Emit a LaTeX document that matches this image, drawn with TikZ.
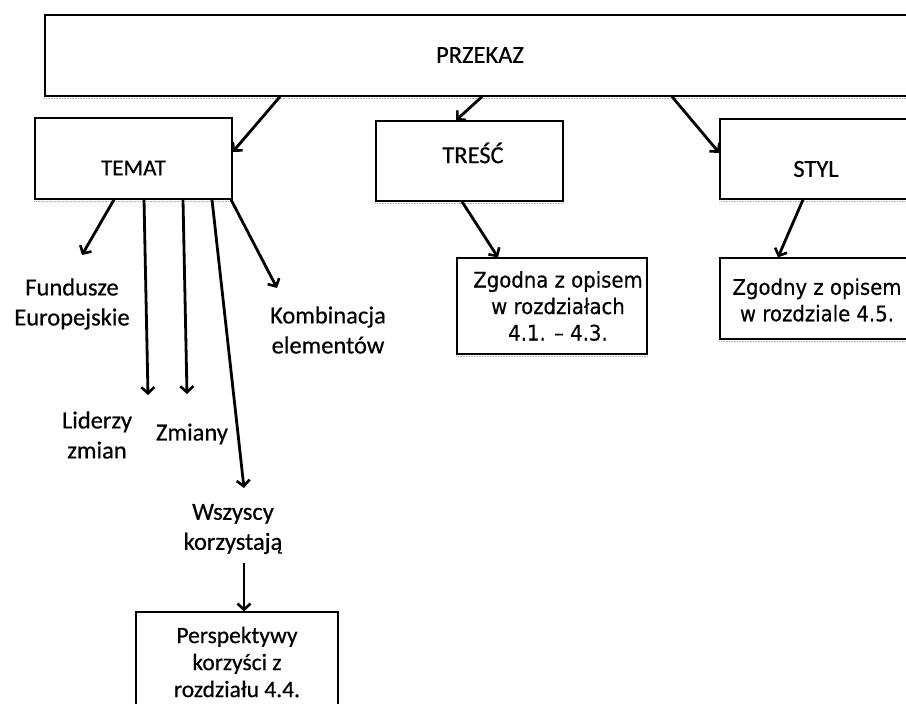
\documentclass[tikz,border=0pt]{standalone}
\usepackage{fontspec}
\setmainfont{Carlito}[FakeBold=0.5]
\newfontfamily\tah[FakeStretch=0.915,FakeBold=0.4]{DejaVu Sans}
\usetikzlibrary{arrows.meta}
\tikzset{
  x=1pt, y=-1pt,
  box/.style={draw, line width=1.3pt, inner sep=0pt, align=center},
  txt/.style={inner sep=0pt, align=center, font=\fontsize{24.5}{30}\selectfont},
  tahtxt/.style={inner sep=0pt, align=center, font=\tah\fontsize{21.5}{26.5}\selectfont},
  arr/.style={line width=2.8pt, -{Straight Barb[length=6pt,width=13pt,line width=2.6pt]}},
  shadowline/.style={draw=gray!60, line width=1.8pt, dash pattern=on 1pt off 0.6pt}
}
\begin{document}
\begin{tikzpicture}
\useasboundingbox (0,0) rectangle (906,704);
% boxes
\node[box, minimum width=870pt, minimum height=81pt] (przekaz) at (480,55.5) {};
\node[txt] (przekazt) at (480,55) {PRZEKAZ};
\node[box, minimum width=197pt, minimum height=81pt] (temat) at (133.5,158.5) {};
\node[txt, font=\fontsize{23}{28}\selectfont] (tematt) at (133.5,168) {TEMAT};
\node[box, minimum width=187pt, minimum height=80pt] (tresc) at (469.5,161) {};
\node[txt] (tresct) at (473,153) {TREŚĆ};
\node[box, minimum width=195pt, minimum height=80pt] (styl) at (817.5,159) {};
\node[txt] (stylt) at (816,169) {STYL};
\node[box, minimum width=190pt, minimum height=96pt] (zgodna) at (552,306) {};
\node[tahtxt] (zgodnat) at (558,306) {Zgodna z opisem\\w rozdziałach\\4.1. – 4.3.};
\node[box, minimum width=195pt, minimum height=81pt] (zgodny) at (817.5,298.5) {};
\node[tahtxt] (zgodnyt) at (817,300) {Zgodny z opisem\\w rozdziale 4.5.};
\node[box, txt, font=\fontsize{23.5}{27}\selectfont, minimum width=202pt, minimum height=100pt] (persp) at (237,662) {Perspektywy\\korzyści z\\rozdziału 4.4.};
% shadows
\foreach \b in {przekaz,temat,tresc,styl,zgodna,zgodny}
  \draw[shadowline] ([yshift=-1.9pt]\b.south west) -- ([yshift=-1.9pt]\b.south east);
% labels
\node[txt] (fund) at (72,304) {Fundusze\\Europejskie};
\node[txt] (komb) at (328,330) {Kombinacja\\elementów};
\node[txt] (lid) at (97,435) {Liderzy\\zmian};
\node[txt] (zmi) at (192,434) {Zmiany};
\node[txt] (wsz) at (233,529) {Wszyscy\\korzystają};
% arrow end points
\coordinate (fundtip) at (82,255);
\coordinate (lidtip) at (148,395);
\coordinate (zmitip) at (187,394);
\coordinate (wsztip) at (244,488);
\coordinate (kombtip) at (277,288);
\coordinate (wszfrom) at (244,563);
% arrows
\draw[arr] ([xshift=-200pt]przekaz.south) -- ([yshift=6.5pt]temat.east);
\draw[arr] ([xshift=2pt]przekaz.south) -- ([xshift=-13.5pt]tresc.north);
\draw[arr] ([xshift=192pt]przekaz.south) -- ([yshift=6pt]styl.west);
\draw[arr] ([xshift=-19.5pt]temat.south) -- (fundtip);
\draw[arr] ([xshift=10.5pt]temat.south) -- (lidtip);
\draw[arr] ([xshift=49.5pt]temat.south) -- (zmitip);
\draw[arr] ([xshift=78.5pt]temat.south) -- (wsztip);
\draw[arr] ([xshift=97.5pt]temat.south) -- (kombtip);
\draw[arr] (wszfrom) -- (persp.north -| wszfrom);
\draw[arr] ([xshift=-7.5pt]tresc.south) -- ([xshift=-54pt]zgodna.north);
\draw[arr] ([xshift=-14.5pt]styl.south) -- ([xshift=-39.5pt]zgodny.north);
\end{tikzpicture}
\end{document}
